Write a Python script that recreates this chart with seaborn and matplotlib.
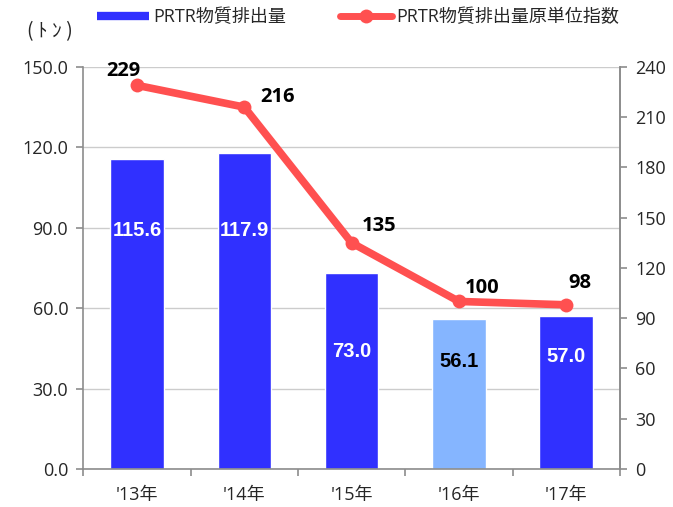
import numpy as np
import matplotlib
matplotlib.use("Agg")
import matplotlib.pyplot as plt
from matplotlib.lines import Line2D
from matplotlib.ticker import FormatStrFormatter
import seaborn as sns

# data
years = ["'13年", "'14年", "'15年", "'16年", "'17年"]
emissions = [115.6, 117.9, 73.0, 56.1, 57.0]
index_vals = [229, 216, 135, 100, 98]
bar_label_y = [89, 89, 44, 40, 42]   # where the bar labels sit (left axis units)
left_ticks = [0, 30, 60, 90, 120, 150]
right_ticks = [0, 30, 60, 90, 120, 150, 180, 210, 240]

blue = "#3030FF"
light_blue = "#85B5FF"
red = "#FF5050"
bar_colors = [blue, blue, blue, light_blue, blue]
bar_text_colors = ["white", "white", "white", "black", "white"]

sns.set_style("white")
plt.rcParams["font.family"] = ["Open Sans", "Noto Sans CJK JP", "DejaVu Sans"]
cjk = ["Noto Sans CJK JP", "DejaVu Sans"]
mixed = ["Open Sans", "Noto Sans CJK JP"]

fig = plt.figure(figsize=(6.73, 5.07), dpi=100)
ax = fig.add_axes([0.124, 0.075, 0.797, 0.793])

sns.barplot(x=years, y=emissions, hue=years, palette=bar_colors, legend=False,
            width=0.5, saturation=1, ax=ax, zorder=2)
ax.set_xlim(-0.5, len(years) - 0.5)
ax.set_ylim(0, 150)
ax.set_yticks(left_ticks)
ax.yaxis.set_major_formatter(FormatStrFormatter("%.1f"))
ax.yaxis.grid(True, color="#cccccc", linewidth=1, zorder=0)
ax.set_axisbelow(True)
ax.set_xlabel("")
ax.set_ylabel("")

gray = "#8c8c8c"
for s in ["left", "bottom", "right"]:
    ax.spines[s].set_color(gray)
    ax.spines[s].set_linewidth(1.2)
ax.spines["top"].set_visible(False)

ax.tick_params(axis="y", direction="out", length=5, color=gray, width=1.2,
               labelsize=13, pad=6, left=True)
ax.set_xticks(np.arange(len(years)))
ax.set_xticklabels(years, family=mixed, fontsize=13)
ax.set_xticks(np.arange(len(years) + 1) - 0.5, minor=True)
ax.tick_params(axis="x", which="major", length=0, pad=12)
ax.tick_params(axis="x", which="minor", direction="out", length=5, color=gray,
               width=1.2, bottom=True)

for i, (v, ly, c) in enumerate(zip(emissions, bar_label_y, bar_text_colors)):
    ax.text(i, ly, f"{v:.1f}", ha="center", va="center", color=c,
            family="Liberation Sans", fontsize=14.5, fontweight="bold", zorder=4)

ax2 = ax.twinx()
sns.lineplot(x=np.arange(len(years)), y=index_vals, ax=ax2, color=red,
             linewidth=5.5, marker="o", markersize=10, markeredgewidth=0,
             zorder=5)
ax2.set_ylim(0, 240)
ax2.set_yticks(right_ticks)
ax2.spines["right"].set_color(gray)
ax2.spines["right"].set_linewidth(1.2)
for s in ["top", "left", "bottom"]:
    ax2.spines[s].set_visible(False)
ax2.tick_params(axis="y", direction="out", length=5, color=gray, width=1.2,
                labelsize=13, pad=6, right=True)

label_offsets = [(-10, 10), (24, 7), (20, 12), (17, 10), (10, 16)]
for i, (v, off) in enumerate(zip(index_vals, label_offsets)):
    ax2.annotate(str(v), (i, v), xytext=off, textcoords="offset points",
                 ha="center", va="center", fontsize=14.5, fontweight="bold",
                 color="black", zorder=6)

handles = [Line2D([0], [0], color=blue, lw=6, solid_capstyle="butt"),
           Line2D([0], [0], color=red, lw=5, marker="o", markersize=10,
                  markeredgewidth=0)]
leg = fig.legend(handles, ["PRTR物質排出量", "PRTR物質排出量原単位指数"],
                 loc="center left", bbox_to_anchor=(0.144, 0.966), ncol=2,
                 frameon=False, prop={"family": mixed, "size": 13},
                 handlelength=2.9, columnspacing=3.0, handletextpad=0.2,
                 borderaxespad=0, borderpad=0)

fig.text(0.04, 0.937, "( ﾄ ﾝ )", family=cjk, fontsize=14, ha="left", va="center")

fig.savefig("out.png", dpi=100)
